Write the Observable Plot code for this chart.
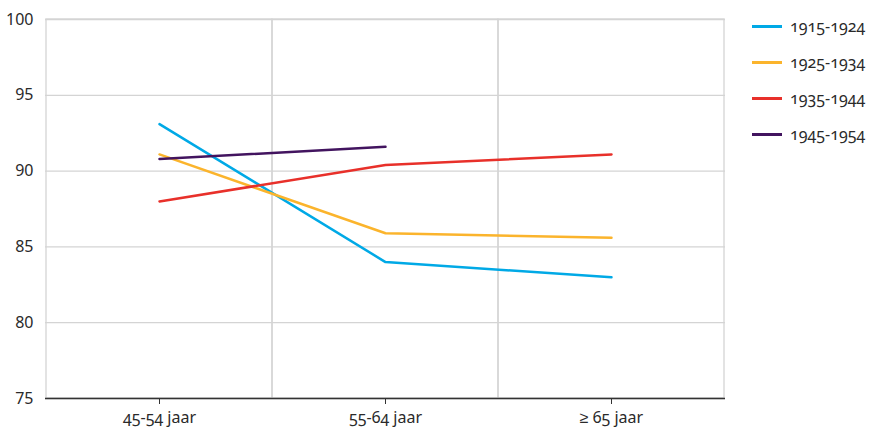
<!DOCTYPE html>
<html>
<head>
<meta charset="utf-8">
<script src="https://cdn.jsdelivr.net/npm/d3@7"></script>
<script src="https://cdn.jsdelivr.net/npm/@observablehq/plot@0.6"></script>
<style>
  html, body { margin: 0; padding: 0; background: #fff; }
  body { font-family: "Noto Sans", sans-serif; font-variant-numeric: oldstyle-nums; }
  #wrap { position: relative; width: 871px; height: 431px; }
  #legend { position: absolute; left: 752px; top: 0; }
  .item { position: absolute; left: 0; white-space: nowrap; display: flex; align-items: center; font-size: 16px; color: #2a2a2a; }
  .sw { width: 30px; height: 3px; margin-right: 8px; }
</style>
</head>
<body>
<div id="wrap">
  <div id="chart"></div>
  <div id="legend"></div>
</div>
<script>
const categories = ["45-54 jaar", "55-64 jaar", "≥ 65 jaar"];
const seriesNames = ["1915-1924", "1925-1934", "1935-1944", "1945-1954"];
const v1915 = [93.1, 84.0, 83.0];
const v1925 = [91.1, 85.9, 85.6];
const v1935 = [88.0, 90.4, 91.1];
const v1945 = [90.8, 91.6, null];
const yTicks = [75, 80, 85, 90, 95, 100];
const colors = ["#00a9e6", "#fbb42c", "#e8302a", "#42145f"];

const allValues = [v1915, v1925, v1935, v1945];
const rows = [];
seriesNames.forEach((s, i) => {
  categories.forEach((c, j) => {
    const v = allValues[i][j];
    if (v != null) rows.push({series: s, cat: c, value: v});
  });
});

const chart = Plot.plot({
  width: 740,
  height: 431,
  marginLeft: 45,
  marginRight: 15,
  marginTop: 19,
  marginBottom: 33,
  style: {fontFamily: "Noto Sans, sans-serif", fontSize: "16px", color: "#2a2a2a", background: "#fff"},
  x: {type: "band", domain: categories, padding: 0, label: null},
  y: {domain: [75, 100], label: null},
  color: {domain: seriesNames, range: colors},
  marks: [
    Plot.gridY(yTicks, {stroke: "#d4d4d4", strokeOpacity: 1, strokeWidth: 1.3}),
    Plot.cell(categories, {x: d => d, stroke: "#d4d4d4", strokeWidth: 1.3, fill: "none"}),
    Plot.axisY(yTicks, {tickSize: 0, tickPadding: 12, fontSize: 16, fill: "#2a2a2a"}),
    Plot.axisX({tickSize: 6, tickPadding: 7, fontSize: 16, fill: "#2a2a2a", stroke: "#333"}),
    Plot.ruleY([75], {stroke: "#333", strokeWidth: 1.3}),
    Plot.line(rows, {x: "cat", y: "value", z: "series", stroke: "series", strokeWidth: 2.5})
  ]
});
document.getElementById("chart").appendChild(chart);

const legend = document.getElementById("legend");
const legendTops = [26, 62, 98, 134];
seriesNames.forEach((s, i) => {
  const item = document.createElement("div");
  item.className = "item";
  item.style.top = (legendTops[i] - 11) + "px";
  item.style.height = "22px";
  const sw = document.createElement("div");
  sw.className = "sw";
  sw.style.background = colors[i];
  const t = document.createElement("span");
  t.textContent = s;
  item.appendChild(sw);
  item.appendChild(t);
  legend.appendChild(item);
});
</script>
</body>
</html>
